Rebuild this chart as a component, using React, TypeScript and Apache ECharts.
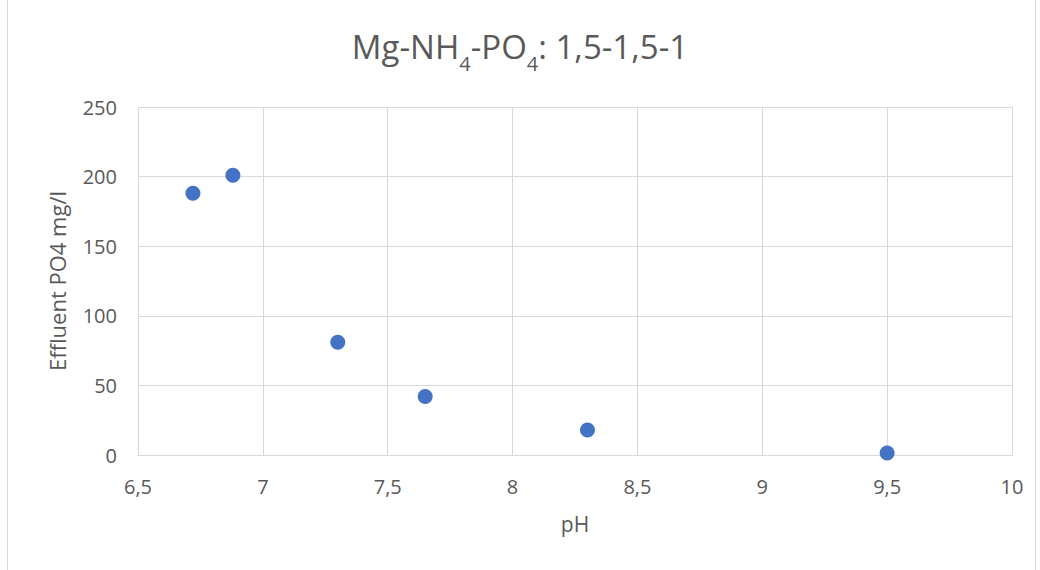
import React, { useEffect, useRef } from "react";
import * as echarts from "echarts";

const titleParts = ["Mg-NH", "4", "-PO", "4", ": 1,5-1,5-1"];
const xTicks = [6.5, 7, 7.5, 8, 8.5, 9, 9.5, 10];
const yTicks = [0, 50, 100, 150, 200, 250];
const phValues = [6.72, 6.88, 7.3, 7.65, 8.3, 9.5];
const po4Values = [188, 201, 81, 42, 18, 1.5];
const xAxisName = "pH";
const yAxisName = "Effluent PO4 mg/l";

const fmt = (v: number) => String(v).replace(".", ",");

export default function App() {
  const ref = useRef<HTMLDivElement>(null);
  useEffect(() => {
    if (!ref.current) return;
    const chart = echarts.init(ref.current, null, { renderer: "svg" });
    const font = "'Open Sans', 'Noto Sans', sans-serif";
    const titleText = `${titleParts[0]}{s|${titleParts[1]}}${titleParts[2]}{s|${titleParts[3]}}${titleParts[4]}`;
    chart.setOption({
      animation: false,
      backgroundColor: "#ffffff",
      textStyle: { fontFamily: font },
      title: {
        text: titleText,
        left: "center",
        top: 25,
        textStyle: {
          fontFamily: font,
          fontSize: 33,
          fontWeight: "normal",
          color: "#595959",
          rich: {
            s: {
              fontFamily: font,
              fontSize: 20,
              color: "#595959",
              verticalAlign: "bottom",
              padding: [0, 0, -10, 0],
            },
          },
        },
      },
      graphic: [
        {
          type: "rect",
          shape: { x: 7.5, y: -2, width: 1028, height: 580 },
          style: { fill: "none", stroke: "#d9d9d9", lineWidth: 1 },
          silent: true,
        },
      ],
      grid: { left: 138, right: 28, top: 107, bottom: 115, containLabel: false },
      xAxis: {
        type: "value",
        min: xTicks[0],
        max: xTicks[xTicks.length - 1],
        interval: 0.5,
        name: xAxisName,
        nameLocation: "middle",
        nameGap: 58,
        nameTextStyle: { fontFamily: font, fontSize: 21, color: "#595959" },
        axisLine: { show: true, lineStyle: { color: "#d9d9d9", width: 1 } },
        axisTick: { show: false },
        axisLabel: {
          formatter: (v: number) => fmt(v),
          fontFamily: font,
          fontSize: 20,
          color: "#595959",
          margin: 21,
        },
        splitLine: { show: true, lineStyle: { color: "#d9d9d9", width: 1 } },
      },
      yAxis: {
        type: "value",
        min: yTicks[0],
        max: yTicks[yTicks.length - 1],
        interval: 50,
        name: yAxisName,
        nameLocation: "middle",
        nameGap: 70,
        nameTextStyle: { fontFamily: font, fontSize: 22, color: "#595959" },
        axisLine: { show: false },
        axisTick: { show: false },
        axisLabel: {
          fontFamily: font,
          fontSize: 20,
          color: "#595959",
          margin: 21,
        },
        splitLine: { show: true, lineStyle: { color: "#d9d9d9", width: 1 } },
      },
      series: [
        {
          type: "scatter",
          data: phValues.map((x, i) => [x, po4Values[i]]),
          symbol: "circle",
          symbolSize: 15,
          itemStyle: { color: "#4472C4", opacity: 1 },
        },
      ],
    });
    return () => chart.dispose();
  }, []);
  return (
    <div
      ref={ref}
      style={{ position: "fixed", left: 0, top: 0, width: 1040, height: 570 }}
    />
  );
}
